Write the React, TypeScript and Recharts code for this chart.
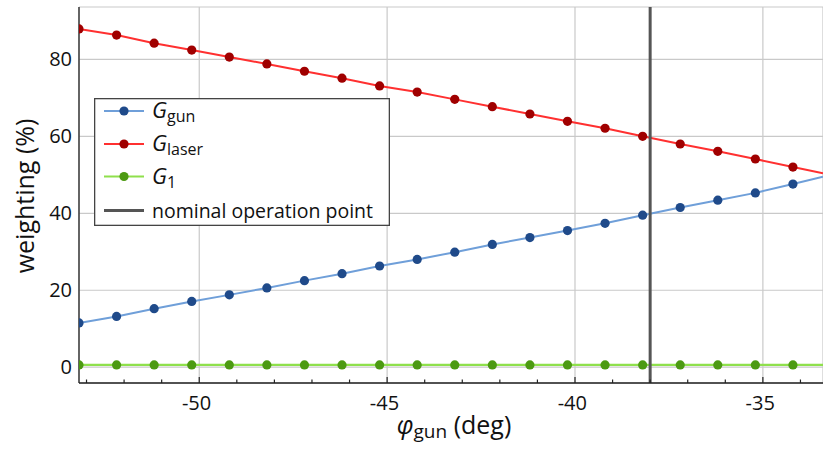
import React from 'react';
import { LineChart, Line, XAxis, YAxis, CartesianGrid, ReferenceLine } from 'recharts';

// ---- data ----
const sampleAngles = [
  -53.2, -52.2, -51.2, -50.2, -49.2, -48.2, -47.2, -46.2, -45.2, -44.2,
  -43.2, -42.2, -41.2, -40.2, -39.2, -38.2, -37.2, -36.2, -35.2, -34.2,
];
const gGun = [
  11.5, 13.2, 15.2, 17.1, 18.8, 20.6, 22.5, 24.3, 26.3, 28.0,
  29.9, 31.9, 33.7, 35.5, 37.4, 39.5, 41.5, 43.4, 45.3, 47.6,
];
const gLaser = [
  87.9, 86.3, 84.2, 82.4, 80.6, 78.8, 76.9, 75.1, 73.1, 71.5,
  69.6, 67.7, 65.8, 63.9, 62.1, 60.0, 58.0, 56.1, 54.1, 52.0,
];
const gOne = [
  0.6, 0.6, 0.6, 0.6, 0.6, 0.6, 0.6, 0.6, 0.6, 0.6,
  0.6, 0.6, 0.6, 0.6, 0.6, 0.6, 0.6, 0.6, 0.6, 0.6,
];
// curves continue (without markers) to the right edge of the plot
const edgeAngle = -33.4;
const edgeGun = 49.5;
const edgeLaser = 50.4;
const edgeOne = 0.6;

const nominalAngle = -38;
const xDomain = [-53.2, -33.4];
const yDomain = [-4.1, 93.6];
const xLabelTicks = [-50, -45, -40, -35];
const xMinorTicks = [
  -53, -52, -51, -50, -49, -48, -47, -46, -45, -44,
  -43, -42, -41, -40, -39, -38, -37, -36, -35, -34,
];
const yTicks = [0, 20, 40, 60, 80];

const data = [
  ...sampleAngles.map((a, i) => ({ phi: a, gun: gGun[i], laser: gLaser[i], one: gOne[i], marker: true })),
  { phi: edgeAngle, gun: edgeGun, laser: edgeLaser, one: edgeOne, marker: false },
];

// ---- style ----
const FONT = '"Open Sans", "Noto Sans", sans-serif';
const C = {
  gunLine: '#6f9fd9',
  gunDot: '#1f4a8a',
  laserLine: '#ff3030',
  laserDot: '#a00000',
  oneLine: '#8fe04c',
  oneDot: '#4c9a12',
  nominal: '#555555',
  grid: '#c9c9c9',
  axis: '#222222',
  text: '#111111',
};

const makeDot = (fill: string) => (props: any) => {
  const { cx, cy, payload, index } = props;
  if (!payload || !payload.marker) return <g key={`e-${index}`} />;
  return <circle key={`d-${index}`} cx={cx} cy={cy} r={4.6} fill={fill} stroke="none" />;
};

const BottomTick = (props: any) => {
  const { x, y, payload } = props;
  const v = payload.value;
  const major = xLabelTicks.indexOf(v) >= 0;
  return (
    <g>
      <line x1={x} x2={x} y1={y} y2={y - (major ? 6 : 3.5)} stroke={C.axis} strokeWidth={1.2} />
      {major && (
        <text x={x + 12} y={y + 27} textAnchor="end" fontSize={20} fill={C.text} fontFamily={FONT}>
          {String(v)}
        </text>
      )}
    </g>
  );
};

const TopTick = (props: any) => {
  const { x, y, payload } = props;
  const major = xLabelTicks.indexOf(payload.value) >= 0;
  return <line x1={x} x2={x} y1={y} y2={y + (major ? 7 : 3.5)} stroke={C.axis} strokeWidth={1.2} />;
};

const XTitle = (props: any) => {
  const vb = props.viewBox || {};
  const cx = vb.x + vb.width / 2 + 3;
  const by = vb.y + 51;
  return (
    <text x={cx} y={by} textAnchor="middle" fontSize={25} fill={C.text} fontFamily={FONT}>
      <tspan fontStyle="italic">φ</tspan>
      <tspan fontSize={19} dy={4}>gun</tspan>
      <tspan dy={-4}> (deg)</tspan>
    </text>
  );
};

const YTitle = (props: any) => {
  const vb = props.viewBox || {};
  const cx = vb.x + 24;
  const cy = vb.y + vb.height / 2 + 1;
  return (
    <text
      x={cx}
      y={cy}
      transform={`rotate(-90, ${cx}, ${cy})`}
      textAnchor="middle"
      dominantBaseline="central"
      fontSize={25}
      fill={C.text}
      fontFamily={FONT}
    >
      weighting (%)
    </text>
  );
};

const legendRows = [
  { sym: 'G', sub: 'gun', line: C.gunLine, dot: C.gunDot },
  { sym: 'G', sub: 'laser', line: C.laserLine, dot: C.laserDot },
  { sym: 'G', sub: '1', line: C.oneLine, dot: C.oneDot },
  { sym: '', sub: '', text: 'nominal operation point', line: C.nominal, dot: '' },
];
const legendRowY = [13, 46, 78.5, 112.5];

// legend drawn in an svg with a 10px pad around the framed box
const PAD = 10;
const LegendBox = () => (
  <svg
    width={296 + 2 * PAD}
    height={128 + 2 * PAD}
    style={{ position: 'absolute', left: 94 - PAD, top: 98 - PAD, display: 'block' }}
  >
    <rect x={PAD + 0.65} y={PAD + 0.65} width={294.7} height={126.7} fill="#fff" stroke="#444" strokeWidth={1.3} />
    {legendRows.map((r, i) => {
      const y = PAD + legendRowY[i];
      return (
        <g key={i}>
          <line x1={PAD + 10} x2={PAD + 50} y1={y} y2={y} stroke={r.line} strokeWidth={r.dot ? 2 : 3} />
          {r.dot && <circle cx={PAD + 30} cy={y} r={4.6} fill={r.dot} />}
          <text x={PAD + 58} y={y + 7} fontSize={19.5} fill={C.text} fontFamily={FONT}>
            {r.dot ? (
              <>
                <tspan fontStyle="italic" fontSize={22}>{r.sym}</tspan>
                <tspan fontSize={16} dy={4}>{r.sub}</tspan>
              </>
            ) : (
              r.text
            )}
          </text>
        </g>
      );
    })}
  </svg>
);

export default function App() {
  return (
    <div style={{ position: 'absolute', left: 0, top: 0, width: 823, height: 454, background: '#fff' }}>
      <LineChart width={823} height={454} data={data} margin={{ top: 7, right: 0, bottom: 0, left: 0 }}>
        <XAxis
          xAxisId="grid"
          type="number"
          dataKey="phi"
          domain={xDomain}
          allowDataOverflow
          ticks={xLabelTicks}
          hide
        />
        <CartesianGrid xAxisId="grid" stroke={C.grid} strokeWidth={1.2} />
        <XAxis
          type="number"
          dataKey="phi"
          domain={xDomain}
          allowDataOverflow
          ticks={xMinorTicks}
          interval={0}
          tickLine={false}
          tickSize={0}
          tickMargin={0}
          tick={<BottomTick />}
          height={71}
          axisLine={{ stroke: C.axis, strokeWidth: 1.3 }}
          label={<XTitle />}
        />
        <XAxis
          xAxisId="top"
          orientation="top"
          type="number"
          dataKey="phi"
          domain={xDomain}
          allowDataOverflow
          ticks={xMinorTicks}
          interval={0}
          tickLine={false}
          tickSize={0}
          tickMargin={0}
          tick={<TopTick />}
          height={0}
          axisLine={{ stroke: C.axis, strokeWidth: 1.3 }}
        />
        <YAxis
          type="number"
          domain={yDomain}
          allowDataOverflow
          ticks={yTicks}
          interval={0}
          width={79}
          tickLine={false}
          tickSize={0}
          tickMargin={7}
          tick={{ fontSize: 20, fill: C.text, fontFamily: FONT }}
          axisLine={{ stroke: C.axis, strokeWidth: 1.3 }}
          label={<YTitle />}
        />
        <Line
          type="linear"
          dataKey="one"
          stroke={C.oneLine}
          strokeWidth={2.4}
          dot={makeDot(C.oneDot)}
          activeDot={false}
          isAnimationActive={false}
        />
        <Line
          type="linear"
          dataKey="gun"
          stroke={C.gunLine}
          strokeWidth={2}
          dot={makeDot(C.gunDot)}
          activeDot={false}
          isAnimationActive={false}
        />
        <Line
          type="linear"
          dataKey="laser"
          stroke={C.laserLine}
          strokeWidth={2}
          dot={makeDot(C.laserDot)}
          activeDot={false}
          isAnimationActive={false}
        />
        <ReferenceLine x={nominalAngle} stroke={C.nominal} strokeWidth={3} ifOverflow="extendDomain" />
      </LineChart>
      <LegendBox />
    </div>
  );
}
